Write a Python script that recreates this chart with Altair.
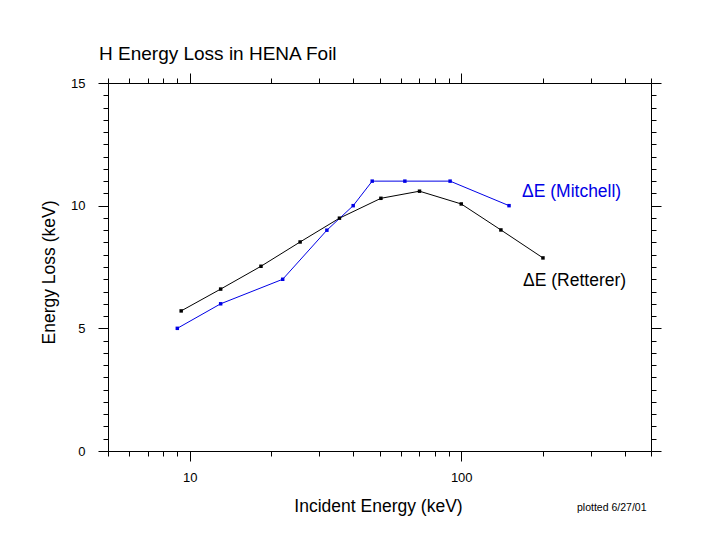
import altair as alt
import pandas as pd

# Data
ret_E = [9.3, 13.0, 18.3, 25.5, 35.6, 50.6, 70.2, 100, 140, 200]
ret_dE = [5.71, 6.60, 7.53, 8.52, 9.49, 10.30, 10.59, 10.07, 9.01, 7.87]
mit_E = [9, 13, 22, 32, 40, 47, 62, 91, 150]
mit_dE = [5.0, 6.0, 7.0, 9.0, 10.0, 11.0, 11.0, 11.0, 10.0]

x_major = [10, 100]
x_minor = [5, 6, 7, 8, 9, 20, 30, 40, 50, 60, 70, 80, 90, 200, 300, 400, 500]
y_major = [0, 5, 10, 15]
y_minor = [v / 2 for v in range(0, 31) if v % 10 != 0]

FONT = "Liberation Sans"
BLUE = "#0000e6"

ret = pd.DataFrame({"E": ret_E, "dE": ret_dE})
mit = pd.DataFrame({"E": mit_E, "dE": mit_dE})

xscale = alt.Scale(type="log", domain=[5, 500], nice=False)
yscale = alt.Scale(domain=[0, 15], nice=False, zero=False)


def xaxis(orient, major, **kw):
    base = dict(orient=orient, grid=False, tickColor="black", tickWidth=1,
                domainColor="black", domainWidth=1, labelFont=FONT,
                labelFontSize=13, labelColor="black", labelFlush=False,
                labelOverlap=False, format="d")
    if major:
        base.update(values=x_major, tickSize=10, domain=True)
    else:
        base.update(values=x_minor, tickSize=5, domain=False, labels=False)
    base.update(kw)
    return alt.Axis(**base)


def yaxis(orient, major, **kw):
    base = dict(orient=orient, grid=False, tickColor="black", tickWidth=1,
                domainColor="black", domainWidth=1, labelFont=FONT,
                labelFontSize=13, labelColor="black", labelFlush=False,
                labelOverlap=False)
    if major:
        base.update(values=y_major, tickSize=10, domain=True)
    else:
        base.update(values=y_minor, tickSize=5, domain=False, labels=False)
    base.update(kw)
    return alt.Axis(**base)


# Layer 1: Retterer line, bottom/left major axes with labels and titles
l1 = alt.Chart(ret).mark_line(color="black", strokeWidth=1).encode(
    x=alt.X("E:Q", scale=xscale,
            axis=xaxis("bottom", True, title="Incident Energy (keV)",
                       titleFont=FONT, titleFontSize=17.5, titleFontWeight="normal",
                       titleColor="black", titleX=270, titleY=60,
                       titleAlign="center", titleBaseline="alphabetic",
                       labelPadding=10)),
    y=alt.Y("dE:Q", scale=yscale,
            axis=yaxis("left", True, title="Energy Loss (keV)",
                       titleFont=FONT, titleFontSize=17.5, titleFontWeight="normal",
                       titleColor="black", titleX=-54, titleY=189,
                       titleAngle=270, titleAlign="center",
                       titleBaseline="alphabetic", labelPadding=13)),
)

# Layer 2: Mitchell line, bottom/left minor ticks
l2 = alt.Chart(mit).mark_line(color=BLUE, strokeWidth=1).encode(
    x=alt.X("E:Q", scale=xscale, axis=xaxis("bottom", False, title=None)),
    y=alt.Y("dE:Q", scale=yscale, axis=yaxis("left", False, title=None)),
)

# Layer 3: Retterer points, top/right major ticks
l3 = alt.Chart(ret).mark_square(color="black", size=12, opacity=1).encode(
    x=alt.X("E:Q", scale=xscale, axis=xaxis("top", True, title=None, labels=False)),
    y=alt.Y("dE:Q", scale=yscale, axis=yaxis("right", True, title=None, labels=False)),
)

# Layer 4: Mitchell points, top/right minor ticks
l4 = alt.Chart(mit).mark_square(color=BLUE, size=12, opacity=1).encode(
    x=alt.X("E:Q", scale=xscale, axis=xaxis("top", False, title=None)),
    y=alt.Y("dE:Q", scale=yscale, axis=yaxis("right", False, title=None)),
)

lab_mit = alt.Chart(pd.DataFrame({"t": ["\u0394E (Mitchell)"]})).mark_text(
    font=FONT, fontSize=17.5, color=BLUE, align="left", baseline="alphabetic"
).encode(text="t:N", x=alt.value(414), y=alt.value(114))

lab_ret = alt.Chart(pd.DataFrame({"t": ["\u0394E (Retterer)"]})).mark_text(
    font=FONT, fontSize=17.5, color="black", align="left", baseline="alphabetic"
).encode(text="t:N", x=alt.value(415), y=alt.value(202.5))

lab_plot = alt.Chart(pd.DataFrame({"t": ["plotted 6/27/01"]})).mark_text(
    font=FONT, fontSize=10.5, color="black", align="left", baseline="alphabetic"
).encode(text="t:N", x=alt.value(469), y=alt.value(427.5))

chart = alt.layer(l1, l2, l3, l4, lab_mit, lab_ret, lab_plot).resolve_axis(
    x="independent", y="independent"
).properties(
    width=543,
    height=368,
    title=alt.TitleParams("H Energy Loss in HENA Foil", anchor="start",
                          frame="group", font=FONT, fontSize=19,
                          fontWeight="normal", color="black", dx=-9,
                          dy=17, offset=11, baseline="alphabetic"),
    autosize=alt.AutoSizeParams(type="none"),
    padding={"left": 100, "top": 75, "right": 58, "bottom": 98},
).configure_view(stroke=None).configure(background="white")

chart.save("out.html", embed_options={"renderer": "svg", "actions": False})
